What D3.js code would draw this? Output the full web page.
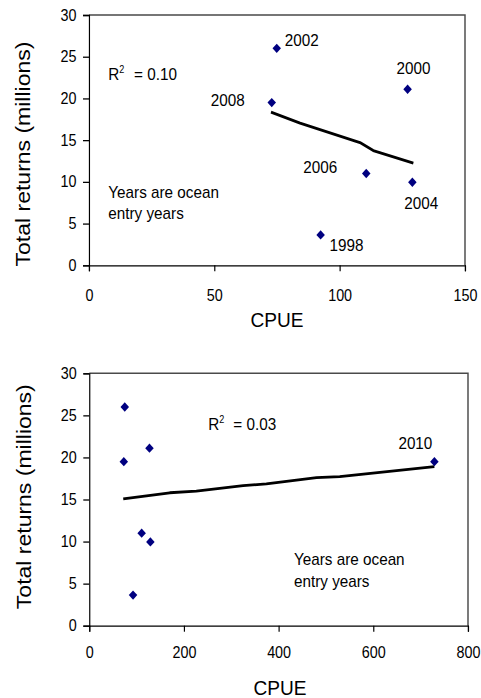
<!DOCTYPE html>
<html>
<head>
<meta charset="utf-8">
<script src="https://cdn.jsdelivr.net/npm/d3@7"></script>
<style>
  body { margin: 0; background: #fff; }
  svg { display: block; }
  text { font-family: "Liberation Sans", Arial, sans-serif; fill: #000; }
</style>
</head>
<body>
<script>

// data
let years   = [1998, 2000, 2002, 2004, 2006, 2008, 2010];
let cpue    = [92.4, 127.1, 74.9, 129.0, 110.6, 72.9, 729];
let returns = [3.64, 21.1, 26.0, 9.96, 11.0, 19.5, 19.5];

// fitted trend lines, as drawn
let trendTopX = [72.6, 84.2, 108.1, 113.4, 129.4];
let trendTopY = [18.36, 17.04, 14.71, 13.75, 12.24];
let trendAllX = [71.7, 170, 226, 325, 374, 480, 529, 729];
let trendAllY = [15.07, 15.8, 16.0, 16.65, 16.85, 17.6, 17.72, 18.9];

let yTicks = [0, 5, 10, 15, 20, 25, 30];
let xTicksTop = [0, 50, 100, 150];
let xTicksBottom = [0, 200, 400, 600, 800];

let r2Top = "0.10";
let r2Bottom = "0.03";

// the original image is a bit squeezed sideways, so draw in a wider box and stretch it
let kx = 1.1;
let W = 481 * kx;

let svg = d3.select("body").append("svg")
	.attr("width", 481)
	.attr("height", 698)
	.attr("viewBox", "0 0 " + W + " 698")
	.attr("preserveAspectRatio", "none");

let points = years.map((yr, i) => ({year: yr, x: cpue[i], y: returns[i]}));

// label offsets in screen px from the marker (dx, dy, anchor)
let labelPos = {
	1998: [9, 16, "start"],
	2000: [-11, -15, "start"],
	2002: [8, -2, "start"],
	2004: [-8, 27, "start"],
	2006: [-29, -1, "end"],
	2008: [-27, 3, "end"],
	2010: [-36, -13, "start"]
};

drawPanel({
	left: 89, right: 465, top: 15, bottom: 265.3,
	xMax: 150, xTicks: xTicksTop, xPad: 18,
	data: points.filter(d => d.x <= 150),
	labelled: [1998, 2000, 2002, 2004, 2006, 2008],
	trendX: trendTopX, trendY: trendTopY,
	r2: r2Top, r2x: 108.3, r2y: 80, r2eq: 134,
	noteX: 108.3, noteY: [197.7, 219.3],
	cpueX: 277, cpueY: 326.7,
	titleX: 29.5, titleY: 154
});

drawPanel({
	left: 89.3, right: 468, top: 373.3, bottom: 625.7,
	xMax: 800, xTicks: xTicksBottom, xPad: 15,
	data: points,
	labelled: [2010],
	trendX: trendAllX, trendY: trendAllY,
	r2: r2Bottom, r2x: 208.3, r2y: 430, r2eq: 233.3,
	noteX: 294, noteY: [565.3, 586.7],
	cpueX: 280, cpueY: 695,
	titleX: 31, titleY: 496.7
});

function drawPanel(p) {
	let g = svg.append("g");

	let x = d3.scaleLinear()
		.domain([0, p.xMax])
		.range([p.left * kx, p.right * kx]);

	let y = d3.scaleLinear()
		.domain([0, 30])
		.range([p.bottom, p.top]);

	// plot frame (top and right)
	g.append("path")
		.attr("d", "M" + x(0) + "," + y(30) + "H" + x(p.xMax) + "V" + y(0))
		.attr("fill", "none")
		.attr("stroke", "#4a4a4a")
		.attr("stroke-width", 1.6);

	// axes
	let yAxis = g.append("g")
		.attr("transform", "translate(" + x(0) + ",0)")
		.call(d3.axisLeft(y).tickValues(yTicks).tickSize(6 * kx).tickPadding(6.5 * kx));

	let xAxis = g.append("g")
		.attr("transform", "translate(0," + y(0) + ")")
		.call(d3.axisBottom(x).tickValues(p.xTicks).tickSize(6).tickPadding(p.xPad));

	[yAxis, xAxis].forEach(ax => {
		ax.selectAll("path, line").attr("stroke", "#000").attr("stroke-width", 1.3);
		ax.selectAll("text")
			.attr("font-family", "'Liberation Sans', Arial, sans-serif")
			.attr("font-size", 15.8)
			.attr("fill", "#000");
	});

	// trend line
	let line = d3.line()
		.x(d => x(d[0]))
		.y(d => y(d[1]));

	g.append("path")
		.datum(p.trendX.map((v, i) => [v, p.trendY[i]]))
		.attr("d", line)
		.attr("fill", "none")
		.attr("stroke", "#000")
		.attr("stroke-width", 2.8)
		.attr("stroke-linejoin", "round");

	// markers: rotated squares
	let diamond = d3.symbol().type(d3.symbolSquare).size(44);
	g.selectAll(".pt")
		.data(p.data)
		.enter()
		.append("path")
		.attr("class", "pt")
		.attr("d", diamond)
		.attr("transform", d => "translate(" + x(d.x) + "," + y(d.y) + ") rotate(45)")
		.attr("fill", "#000080");

	// year labels
	g.selectAll(".yr")
		.data(p.data.filter(d => p.labelled.includes(d.year)))
		.enter()
		.append("text")
		.attr("class", "yr")
		.attr("x", d => x(d.x) + labelPos[d.year][0] * kx)
		.attr("y", d => y(d.y) + labelPos[d.year][1])
		.attr("text-anchor", d => labelPos[d.year][2])
		.attr("font-size", 16.8)
		.text(d => d.year);

	// R squared
	let r2 = g.append("text")
		.attr("x", p.r2x * kx)
		.attr("y", p.r2y)
		.attr("font-size", 16.8);
	r2.append("tspan").text("R");
	r2.append("tspan").attr("dy", -7).attr("font-size", 10).text("2");

	g.append("text")
		.attr("x", p.r2eq * kx)
		.attr("y", p.r2y)
		.attr("font-size", 16.8)
		.text("= " + p.r2);

	// note
	g.append("text")
		.attr("x", p.noteX * kx)
		.attr("y", p.noteY[0])
		.attr("font-size", 16.8)
		.text("Years are ocean");
	g.append("text")
		.attr("x", p.noteX * kx)
		.attr("y", p.noteY[1])
		.attr("font-size", 16.8)
		.text("entry years");

	// axis titles
	g.append("text")
		.attr("x", p.cpueX * kx)
		.attr("y", p.cpueY)
		.attr("text-anchor", "middle")
		.attr("font-size", 21)
		.text("CPUE");

	g.append("text")
		.attr("transform", "translate(" + (p.titleX * kx) + "," + p.titleY + ") rotate(-90)")
		.attr("text-anchor", "middle")
		.attr("font-size", 23)
		.text("Total returns (millions)");
}
</script>
</body>
</html>
